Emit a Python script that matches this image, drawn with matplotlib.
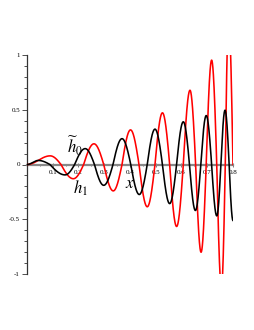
import numpy as np
import matplotlib
matplotlib.use("Agg")
import matplotlib.pyplot as plt
from matplotlib.ticker import MultipleLocator

plt.rcParams['font.family'] = ['Liberation Serif', 'DejaVu Serif']
plt.rcParams['mathtext.fontset'] = 'stix'

# black curve (h1): extrema and zero crossings
black_ext_x = [0.044, 0.148, 0.226, 0.298, 0.369, 0.436, 0.497, 0.554, 0.607, 0.654, 0.696, 0.737, 0.769, 0.800]
black_ext_y = [0.037, -0.095, 0.145, -0.190, 0.236, -0.274, 0.323, -0.357, 0.390, -0.420, 0.447, -0.469, 0.496, -0.512]
black_zero_x = [0.0, 0.089, 0.185, 0.262, 0.334, 0.403, 0.467, 0.526, 0.581, 0.631, 0.675, 0.717, 0.753, 0.785]

# red curve (h0 tilde)
red_ext_x = [0.090, 0.180, 0.260, 0.335, 0.402, 0.467, 0.526, 0.581, 0.633, 0.676, 0.717, 0.755, 0.783]
red_ext_y = [0.079, -0.130, 0.189, -0.241, 0.316, -0.386, 0.472, -0.566, 0.678, -0.801, 0.953, -1.13, 1.34]
red_zero_x = [0.0, 0.132, 0.220, 0.298, 0.369, 0.435, 0.497, 0.554, 0.607, 0.655, 0.696, 0.737, 0.770, 0.800]

y_ticks = [-1, -0.5, 0, 0.5, 1]
y_tick_labels = ['-1', '-0.5', '0', '0.5', '1']
x_ticks = [0.1, 0.2, 0.3, 0.4, 0.5, 0.6, 0.7, 0.8]
x_tick_labels = ['0.1', '0.2', '0.3', '0.4', '0.5', '0.6', '0.7', '0.8']


def smooth_path(zx, ex, ey, n=60):
    """Draw a smooth wave through alternating zero crossings and extrema."""
    keys = []
    for x in zx:
        keys.append((x, 0.0, 'z'))
    for x, y in zip(ex, ey):
        keys.append((x, y, 'e'))
    keys.sort(key=lambda k: k[0])
    xs, ys = [], []
    for i in range(len(keys) - 1):
        x0, y0, t0 = keys[i]
        x1, y1, t1 = keys[i + 1]
        t = np.linspace(0, 1, n)
        if i == 0:
            seg = y0 + (y1 - y0) * (1 - np.cos(np.pi * t)) / 2
        elif t0 == 'z' and t1 == 'e':
            seg = y1 * np.sin(np.pi / 2 * t)
        elif t0 == 'e' and t1 == 'z':
            seg = y0 * np.cos(np.pi / 2 * t)
        else:
            seg = y0 + (y1 - y0) * (1 - np.cos(np.pi * t)) / 2
        xs.extend(x0 + (x1 - x0) * t)
        ys.extend(seg)
    return np.array(xs), np.array(ys)


fig = plt.figure(figsize=(2.55, 3.3), dpi=100)
ax = fig.add_axes([27 / 255, 56 / 330, (233 - 27) / 255, (274 - 55) / 330])

bx, by = smooth_path(black_zero_x, black_ext_x, black_ext_y)
rx, ry = smooth_path(red_zero_x, red_ext_x, red_ext_y)
ax.plot(rx, ry, color='#ff0000', lw=1.15, zorder=3)
ax.plot(bx, by, color='black', lw=1.15, zorder=4)

ax.set_xlim(0, 0.8)
ax.set_ylim(-1, 1)

for s in ['top', 'right']:
    ax.spines[s].set_visible(False)
ax.spines['bottom'].set_position(('data', 0))
ax.spines['bottom'].set_color('#888888')
ax.spines['bottom'].set_linewidth(1.6)
ax.spines['bottom'].set_zorder(2)
ax.spines['left'].set_color('#333333')
ax.spines['left'].set_linewidth(0.9)

ax.set_yticks(y_ticks)
ax.set_yticklabels(y_tick_labels)
ax.yaxis.set_minor_locator(MultipleLocator(0.1))
ax.tick_params(axis='y', which='major', length=3.5, width=0.6, color='#333333', labelsize=5, pad=1.5)
ax.tick_params(axis='y', which='minor', length=2, width=0.6, color='#333333')

ax.set_xticks(x_ticks)
ax.set_xticklabels(x_tick_labels)
ax.xaxis.set_minor_locator(MultipleLocator(0.05))
ax.tick_params(axis='x', which='major', direction='inout', length=3, width=0.6, color='#666666', labelsize=5, pad=2.5)
ax.tick_params(axis='x', which='minor', direction='inout', length=2, width=0.6, color='#666666')

ax.text(0.186, 0.17, r'$\widetilde{h}_0$', fontsize=12, ha='center', va='center')
ax.text(0.206, -0.22, r'$h_1$', fontsize=12, ha='center', va='center')
ax.text(0.40, -0.18, r'$x$', fontsize=12, ha='center', va='center')

fig.savefig('out.png', dpi=100)
